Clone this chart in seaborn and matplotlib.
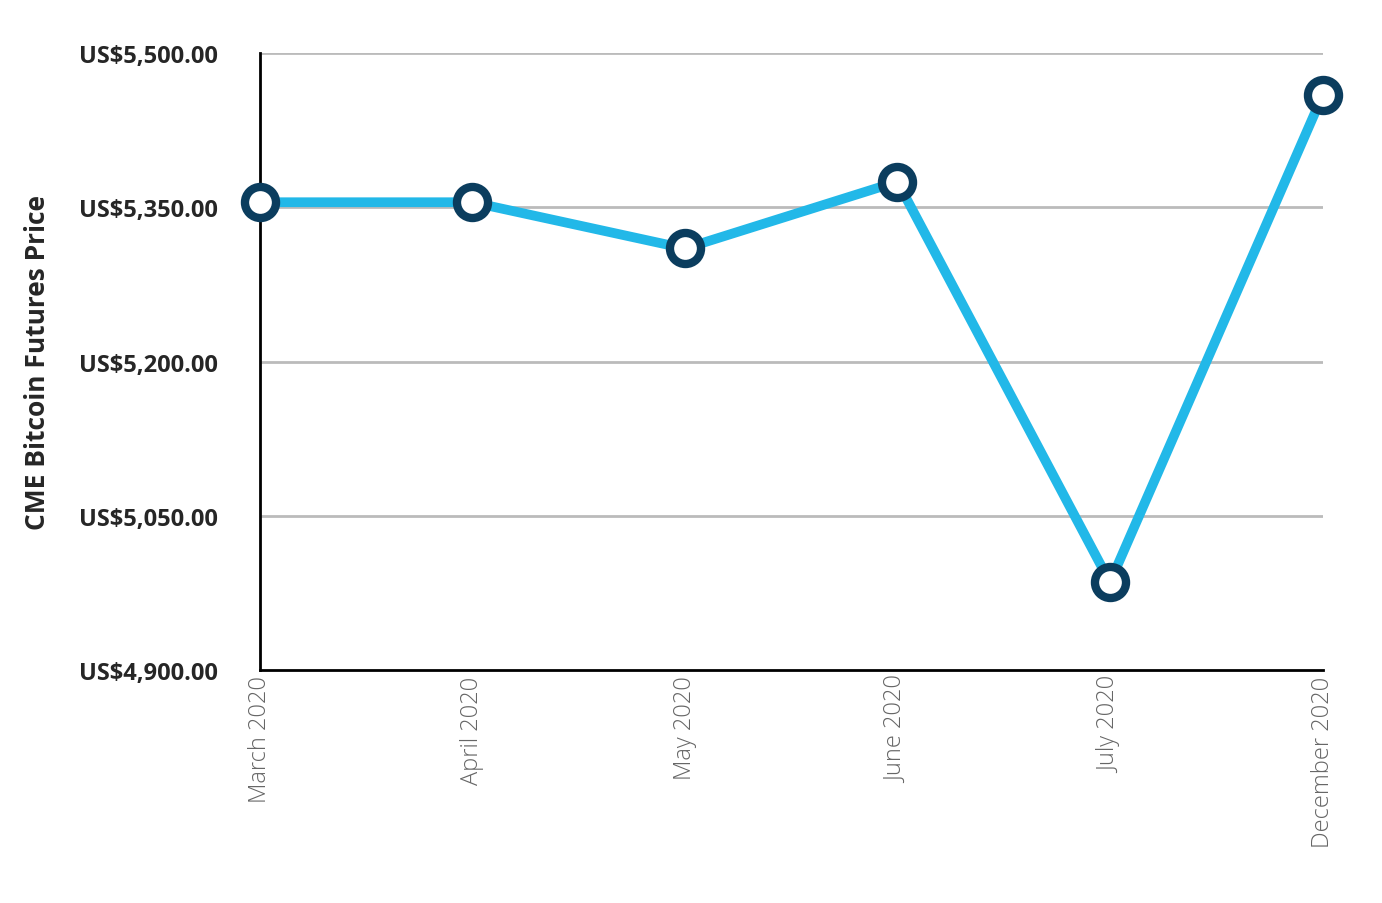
import matplotlib
matplotlib.use("Agg")
import matplotlib.pyplot as plt
import seaborn as sns
import pandas as pd

months = ["March 2020", "April 2020", "May 2020", "June 2020", "July 2020", "December 2020"]
prices = [5355, 5355, 5310, 5375, 4985, 5459]

sns.set_style("white")
plt.rcParams['font.family'] = ['Open Sans', 'DejaVu Sans']

df = pd.DataFrame({"month": months, "price": prices})
df["x"] = range(len(months))

fig = plt.figure(figsize=(13.82, 9.04), dpi=100)
ax = fig.add_axes([0.188, 0.258, 0.769, 0.682])

for v in [5050, 5200, 5350, 5500]:
    ax.axhline(v, color="#bbbbbb", lw=2, zorder=0)

sns.lineplot(data=df, x="x", y="price", ax=ax, color="#22b8e8", lw=7, zorder=2)
ax.scatter(df["x"], df["price"], s=500, facecolor="white", edgecolor="#0b3d5e",
           linewidths=6, zorder=3, clip_on=False)

ax.set_xlim(0, len(months) - 1)
ax.set_ylim(4900, 5500)
ax.set_yticks([4900, 5050, 5200, 5350, 5500])
ax.set_yticklabels([f"US${v:,.2f}" for v in [4900, 5050, 5200, 5350, 5500]],
                   fontsize=17, fontweight="bold")
ax.set_xticks(df["x"])
ax.set_xticklabels(months, rotation=90, fontsize=17, color="#666666", fontweight="light")
ax.tick_params(axis="y", pad=30, length=0)
ax.tick_params(axis="x", pad=4, length=0)
ax.set_xlabel("")
ax.set_ylabel("CME Bitcoin Futures Price", fontsize=19, fontweight="bold", labelpad=20)

for s in ["top", "right"]:
    ax.spines[s].set_visible(False)
for s in ["left", "bottom"]:
    ax.spines[s].set_color("black")
    ax.spines[s].set_linewidth(2)

fig.savefig("out.png", dpi=100)
